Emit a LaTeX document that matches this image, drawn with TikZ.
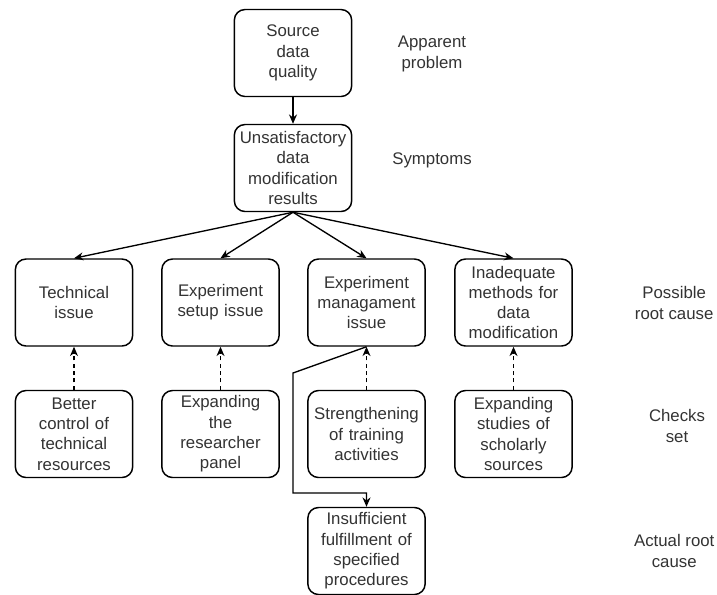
\documentclass[tikz,border=0pt]{standalone}
\usepackage{fontspec}
\setmainfont{Liberation Sans}
\usetikzlibrary{arrows.meta}
\definecolor{txt}{HTML}{333333}
\begin{document}
\begin{tikzpicture}[x=0.75pt,y=-0.75pt,
  box/.style={draw=black,fill=white,rounded corners=8pt,line width=1.1pt,
    minimum width=117*0.75pt,minimum height=87*0.75pt,text width=86pt,
    align=center,font=\fontsize{12.6}{15.2}\selectfont,text=txt,inner sep=1pt},
  lab/.style={align=center,font=\fontsize{12.6}{15.2}\selectfont,text=txt,inner sep=1pt},
  arr/.style={-{Stealth[length=7pt,width=6pt]},line width=1pt},
  darr/.style={arr,dash pattern=on 3pt off 2.5pt}]
\useasboundingbox (0,0) rectangle (717,594);
\node[box] (src) at (293,53) {Source\\data\\quality};
\node[box] (uns) at (293,168) {Unsatisfactory\\data\\modification\\results};
\node[box] (tech) at (74,302.5) {Technical\\issue};
\node[box] (setup) at (220.5,302.5) {Experiment\\setup issue};
\node[box] (mgmt) at (366.5,302.5) {Experiment\\managament\\issue};
\node[box] (inad) at (513.5,302.5) {Inadequate\\methods for\\data\\modification};
\node[box] (c1) at (74,434) {Better\\control of\\technical\\resources};
\node[box] (c2) at (220.5,434) {Expanding\\the\\researcher\\panel};
\node[box] (c3) at (366.5,434) {Strengthening\\of training\\activities};
\node[box] (c4) at (513.5,434) {Expanding\\studies of\\scholarly\\sources};
\node[box] (act) at (366.5,551) {Insufficient\\fulfillment of\\specified\\procedures};
\node[lab] (l1) at (432,54) {Apparent\\problem};
\node[lab] (l2) at (432,160) {Symptoms};
\node[lab,anchor=east] (l3) at (715,303) {Possible\\root cause};
\node[lab] (l4) at (677,426) {Checks\\set};
\node[lab,anchor=east] (l5) at (716,551) {Actual root\\cause};
\draw[arr] (src) -- (uns);
\draw[arr] (uns.south) -- (tech.north);
\draw[arr] (uns.south) -- (setup.north);
\draw[arr] (uns.south) -- (mgmt.north);
\draw[arr] (uns.south) -- (inad.north);
\draw[darr] (c1) -- (tech);
\draw[darr] (c2) -- (setup);
\draw[darr] (c3) -- (mgmt);
\draw[darr] (c4) -- (inad);
\coordinate (b1) at (293,373);
\coordinate (b2) at (293,493);
\draw[arr] (mgmt.south) -- (b1) -- (b2) -| (act.north);
\end{tikzpicture}
\end{document}
